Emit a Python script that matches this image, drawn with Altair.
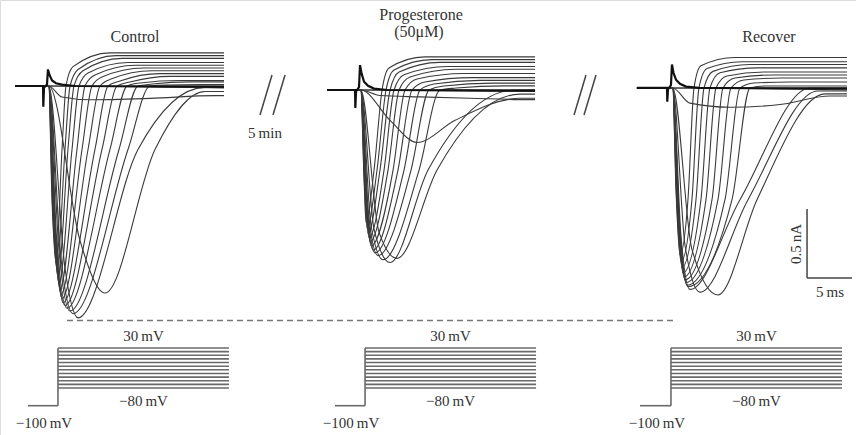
import altair as alt
import pandas as pd

# ---------------- current traces (time in ms after the step, current in nA) ----------------
# one entry per trace, from the largest depolarisation (highest outward plateau) down
ctrl_fall_t = [0.67, 0.72, 0.78, 0.83, 0.89, 0.94, 1.00, 1.06, 1.11, 1.22, 1.44, 1.67, 2.11, 3.78, 1.78]
ctrl_fall_i = [-0.83, -0.86, -0.90, -0.94, -0.97, -1.01, -1.04, -1.08, -1.12, -1.15, -1.19, -1.25, -1.32, -1.12, -0.08]
ctrl_peak_t = [1.11, 1.22, 1.33, 1.44, 1.56, 1.67, 1.78, 1.89, 2.11, 2.33, 2.67, 3.00, 3.56, 6.56, 4.89]
ctrl_peak_i = [-1.28, -1.33, -1.38, -1.43, -1.47, -1.51, -1.54, -1.57, -1.59, -1.61, -1.63, -1.65, -1.68, -1.50, -0.10]
ctrl_mid_t = [1.78, 2.11, 2.44, 2.89, 3.44, 4.00, 4.67, 5.44, 6.22, 7.11, 8.11, 9.11, 10.22, 12.11, 11.56]
ctrl_mid_i = [-0.46, -0.46, -0.46, -0.46, -0.46, -0.46, -0.46, -0.46, -0.46, -0.46, -0.46, -0.46, -0.46, -0.46, -0.09]
ctrl_cross_t = [2.22, 2.67, 3.11, 3.67, 4.33, 5.11, 6.00, 6.89, 7.89, 9.00, 10.22, 11.56, None, None, None]
ctrl_bend_t = [3.00, 3.56, 4.11, 4.67, 5.44, 6.22, 7.22, 8.22, 9.33, 10.44, 11.78, 13.22, None, None, None]
ctrl_bend_i = [0.14, 0.12, 0.11, 0.094, 0.08, 0.065, 0.05, 0.036, 0.029, 0.022, 0.014, 0.007, None, None, None]
ctrl_knee_t = [7.11, 7.78, 8.44, 9.11, 10.00, 10.89, 11.78, 12.67, 13.78, 14.89, 16.00, 17.11, 17.67, 17.67, 18.78]
ctrl_plat_i = [0.24, 0.22, 0.20, 0.17, 0.15, 0.13, 0.11, 0.09, 0.07, 0.04, 0.03, 0.01, -0.01, -0.04, -0.07]
ctrl_flat_i = [-0.01, -0.015]

prog_fall_t = [0.67, 0.72, 0.78, 0.83, 0.89, 0.94, 1.00, 1.11, 1.22, 1.44, 1.78, 2.33, 3.56, 2.44]
prog_fall_i = [-0.65, -0.69, -0.72, -0.76, -0.80, -0.83, -0.87, -0.91, -0.94, -0.98, -1.01, -1.03, -0.22, -0.04]
prog_peak_t = [0.89, 1.00, 1.11, 1.22, 1.33, 1.44, 1.67, 1.89, 2.22, 2.78, 3.56, 4.33, 6.56, 6.89]
prog_peak_i = [-0.96, -1.00, -1.04, -1.07, -1.10, -1.13, -1.16, -1.18, -1.20, -1.23, -1.25, -1.22, -0.38, -0.05]
prog_mid_t = [1.78, 2.11, 2.44, 2.89, 3.33, 3.89, 4.44, 5.11, 5.89, 6.78, 7.78, 8.78, 10.78, 12.44]
prog_mid_i = [-0.58, -0.58, -0.58, -0.58, -0.58, -0.58, -0.58, -0.58, -0.58, -0.58, -0.58, -0.58, -0.22, -0.06]
prog_cross_t = [2.67, 3.11, 3.56, 4.00, 4.56, 5.22, 6.00, 6.89, 7.89, 9.11, None, None, None, None]
prog_bend_t = [3.44, 4.00, 4.56, 5.11, 5.78, 6.56, 7.44, 8.44, 9.56, 10.89, None, None, None, None]
prog_bend_i = [0.16, 0.145, 0.13, 0.11, 0.094, 0.08, 0.058, 0.043, 0.029, 0.014, None, None, None, None]
prog_knee_t = [7.44, 8.22, 9.11, 10.00, 10.89, 11.78, 12.67, 13.56, 14.89, 16.33, 17.44, 18.00, 18.00, 19.11]
prog_plat_i = [0.24, 0.22, 0.20, 0.17, 0.15, 0.12, 0.09, 0.07, 0.05, 0.03, 0.00, -0.03, -0.06, -0.07]
prog_flat_i = [0.0, -0.01]

rec_fall_t = [0.67, 0.72, 0.78, 0.83, 0.89, 0.94, 1.00, 1.06, 1.11, 1.22, 1.67, 2.44, 2.22]
rec_fall_i = [-0.74, -0.78, -0.81, -0.85, -0.88, -0.92, -0.96, -0.99, -1.03, -1.07, -1.14, -1.17, -0.11]
rec_peak_t = [1.11, 1.22, 1.33, 1.44, 1.56, 1.67, 1.78, 1.89, 2.00, 2.22, 3.33, 5.33, 6.67]
rec_peak_i = [-1.21, -1.26, -1.30, -1.34, -1.37, -1.39, -1.41, -1.43, -1.44, -1.46, -1.48, -1.50, -0.14]
rec_mid_t = [2.00, 2.44, 2.89, 3.44, 4.00, 4.67, 5.33, 6.11, 6.89, 7.78, 8.67, 9.67, 12.22]
rec_mid_i = [-0.81, -0.81, -0.81, -0.81, -0.81, -0.81, -0.81, -0.81, -0.81, -0.81, -0.81, -0.81, -0.12]
rec_cross_t = [2.67, 3.22, 3.78, 4.44, 5.11, 5.89, 6.78, 7.78, 8.89, None, None, None, None]
rec_bend_t = [3.44, 4.11, 4.78, 5.56, 6.33, 7.22, 8.22, 9.33, 10.56, None, None, None, None]
rec_bend_i = [0.16, 0.14, 0.12, 0.11, 0.087, 0.072, 0.058, 0.036, 0.014, None, None, None, None]
rec_knee_t = [7.22, 8.00, 8.89, 9.78, 10.67, 11.56, 12.44, 13.33, 14.44, 15.56, 16.44, 17.22, 17.78]
rec_plat_i = [0.22, 0.19, 0.17, 0.145, 0.116, 0.094, 0.072, 0.043, 0.014, 0.00, -0.022, -0.043, -0.058]
rec_flat_i = [0.0, -0.015]

# capacitive transient at the step (shared time points, per-panel amplitudes)
art_t = [-0.33, -0.30, -0.22, 0.11, 0.22, 0.39, 0.67, 1.11, 1.78, 3.22]
ctrl_art_i = [0.0, -0.15, -0.01, 0.01, 0.12, 0.08, 0.04, 0.02, 0.01, 0.0]
prog_art_i = [0.0, -0.13, -0.01, 0.02, 0.18, 0.12, 0.06, 0.03, 0.01, 0.0]
rec_art_i = [0.0, -0.10, -0.01, 0.02, 0.17, 0.11, 0.06, 0.03, 0.01, 0.0]

# recording window of each panel (ms relative to step)
trace_start = [-3.44, -3.44, -3.67]
trace_end = [19.78, 19.67, 19.67]

# ---------------- voltage protocol ----------------
holding_mv = -100
step_levels_mv = [-80, -70, -60, -50, -40, -30, -20, -10, 0, 10, 20, 30]
proto_hold_start = [-2.00, -2.56, -3.33]
proto_step = [1.33, 0.78, 0.11]
proto_end = [20.33, 19.78, 19.11]

# peak of control current marked by the dashed line (nA)
control_peak_level = -1.70

panel_names = ["Control", "Progesterone", "Recover"]

# ---------------- layout (placement of panels on the shared canvas) ----------------
panel_dt = [0.0, 34.67, 69.33]     # ms offset of each panel
panel_di = [0.0, -0.029, -0.014]   # baseline offset of each panel (nA)
X_DOM = [-5.111, 90.0]
Y_DOM = [-2.529, 0.6232]
V_DOM = [-100, -80, 30]
V_RANGE = [405.7, 388, 348]
W, H = 856, 435
FONT = "Liberation Serif"
INK = "#333333"

panels = [
    dict(fall_t=ctrl_fall_t, fall_i=ctrl_fall_i, peak_t=ctrl_peak_t, peak_i=ctrl_peak_i,
         mid_t=ctrl_mid_t, mid_i=ctrl_mid_i, cross_t=ctrl_cross_t, bend_t=ctrl_bend_t,
         bend_i=ctrl_bend_i, knee_t=ctrl_knee_t, plat_i=ctrl_plat_i, flat=ctrl_flat_i, art=ctrl_art_i),
    dict(fall_t=prog_fall_t, fall_i=prog_fall_i, peak_t=prog_peak_t, peak_i=prog_peak_i,
         mid_t=prog_mid_t, mid_i=prog_mid_i, cross_t=prog_cross_t, bend_t=prog_bend_t,
         bend_i=prog_bend_i, knee_t=prog_knee_t, plat_i=prog_plat_i, flat=prog_flat_i, art=prog_art_i),
    dict(fall_t=rec_fall_t, fall_i=rec_fall_i, peak_t=rec_peak_t, peak_i=rec_peak_i,
         mid_t=rec_mid_t, mid_i=rec_mid_i, cross_t=rec_cross_t, bend_t=rec_bend_t,
         bend_i=rec_bend_i, knee_t=rec_knee_t, plat_i=rec_plat_i, flat=rec_flat_i, art=rec_art_i),
]

trace_rows, art_rows = [], []
for p, P in enumerate(panels):
    def add(name, pts):
        for j, (t, i) in enumerate(pts):
            trace_rows.append(dict(trace=f"{p}-{name}", k=j, t=t + panel_dt[p], i=i + panel_di[p]))
    for k in range(len(P["peak_t"])):
        pts = [(trace_start[p], 0.0), (0.3, 0.0),
               (P["fall_t"][k], P["fall_i"][k]),
               (P["peak_t"][k], P["peak_i"][k]),
               (P["mid_t"][k], P["mid_i"][k])]
        if P["cross_t"][k] is not None:
            pts.append((P["cross_t"][k], 0.0))
            pts.append((P["bend_t"][k], P["bend_i"][k]))
        pts += [(P["knee_t"][k], P["plat_i"][k]), (trace_end[p], P["plat_i"][k])]
        add(f"a{k}", pts)
    for k, f in enumerate(P["flat"]):
        add(f"f{k}", [(trace_start[p], 0.0), (0.3, 0.0), (trace_end[p], f)])
    apts = [(trace_start[p], 0.0)] + list(zip(art_t, P["art"])) + [(trace_end[p], -0.005)]
    for j, (t, i) in enumerate(apts):
        art_rows.append(dict(panel=p, k=j, t=t + panel_dt[p], i=i + panel_di[p]))

df_tr = pd.DataFrame(trace_rows)
df_art = pd.DataFrame(art_rows)

xs = alt.Scale(domain=X_DOM, nice=False, zero=False)
ys = alt.Scale(domain=Y_DOM, nice=False, zero=False)
vs = alt.Scale(domain=V_DOM, range=V_RANGE, nice=False, zero=False)

traces = alt.Chart(df_tr).mark_line(interpolate="monotone", color="#3a3a3a", strokeWidth=1.1).encode(
    x=alt.X("t:Q", scale=xs, axis=None),
    y=alt.Y("i:Q", scale=ys, axis=None),
    detail="trace:N",
)
artifact = alt.Chart(df_art).mark_line(color="#111111", strokeWidth=2.2).encode(
    x=alt.X("t:Q", scale=xs, axis=None),
    y=alt.Y("i:Q", scale=ys, axis=None),
    detail="panel:N",
    order="k:Q",
)

# dashed reference line at control peak
df_dash = pd.DataFrame([dict(t0=2.33, t1=69.89, i=control_peak_level)])
dash = alt.Chart(df_dash).mark_rule(color="#777777", strokeWidth=1.5, strokeDash=[6, 4]).encode(
    x=alt.X("t0:Q", scale=xs, axis=None), x2="t1:Q",
    y=alt.Y("i:Q", scale=ys, axis=None),
)

# scale bar (0.5 nA, 5 ms) and break marks
bar_t, bar_i = 84.56, -1.391
seg_rows = [
    dict(t0=bar_t, t1=bar_t, i0=bar_i + 0.5, i1=bar_i),
    dict(t0=bar_t, t1=bar_t + 5.0, i0=bar_i, i1=bar_i),
    dict(t0=23.78, t1=25.11, i0=-0.21, i1=0.08),
    dict(t0=25.22, t1=26.56, i0=-0.21, i1=0.08),
    dict(t0=58.67, t1=60.00, i0=-0.21, i1=0.08),
    dict(t0=59.78, t1=61.11, i0=-0.21, i1=0.08),
]
df_seg = pd.DataFrame(seg_rows)
segs = alt.Chart(df_seg).mark_rule(color="#444444", strokeWidth=1.5).encode(
    x=alt.X("t0:Q", scale=xs, axis=None), x2="t1:Q",
    y=alt.Y("i0:Q", scale=ys, axis=None), y2="i1:Q",
)

# text annotations
txt_rows = [
    dict(t=9.89, i=0.319, label="Control", size=16),
    dict(t=41.67, i=0.478, label="Progesterone", size=16),
    dict(t=41.44, i=0.355, label="(50\u03bcM)", size=16),
    dict(t=80.33, i=0.319, label="Recover", size=16),
    dict(t=24.33, i=-0.377, label="5\u2009min", size=15),
    dict(t=87.11, i=-1.529, label="5\u2009ms", size=15),
]
df_txt = pd.DataFrame(txt_rows)
texts = alt.Chart(df_txt).mark_text(font=FONT, color=INK, align="center", baseline="alphabetic").encode(
    x=alt.X("t:Q", scale=xs, axis=None),
    y=alt.Y("i:Q", scale=ys, axis=None),
    text="label:N",
    size=alt.Size("size:Q", scale=None, legend=None),
)
df_rot = pd.DataFrame([dict(t=83.33, i=-1.145, label="0.5\u2009nA")])
rot = alt.Chart(df_rot).mark_text(font=FONT, color=INK, fontSize=15, angle=270,
                                   align="center", baseline="middle").encode(
    x=alt.X("t:Q", scale=xs, axis=None),
    y=alt.Y("i:Q", scale=ys, axis=None),
    text="label:N",
)

# voltage protocol
step_rows, hold_rows, vert_rows, lab_rows = [], [], [], []
for p in range(3):
    s = panel_dt[p] + proto_step[p]
    for v in step_levels_mv:
        step_rows.append(dict(t0=s, t1=panel_dt[p] + proto_end[p], v=v))
    hold_rows.append(dict(t0=panel_dt[p] + proto_hold_start[p], t1=s, v=holding_mv))
    vert_rows.append(dict(t=s, v0=holding_mv, v1=max(step_levels_mv)))
    lab_rows.append(dict(t=s + 9.5, hi=max(step_levels_mv), lo=min(step_levels_mv), hold=holding_mv,
                         th=s - 1.56))
df_steps = pd.DataFrame(step_rows + hold_rows)
df_vert = pd.DataFrame(vert_rows)
df_lab = pd.DataFrame(lab_rows)

vsteps = alt.Chart(df_steps).mark_rule(color="#6a6a6a", strokeWidth=1.6).encode(
    x=alt.X("t0:Q", scale=xs, axis=None), x2="t1:Q",
    y=alt.Y("v:Q", scale=vs, axis=None),
)
vvert = alt.Chart(df_vert).mark_rule(color="#6a6a6a", strokeWidth=1.6).encode(
    x=alt.X("t:Q", scale=xs, axis=None),
    y=alt.Y("v0:Q", scale=vs, axis=None), y2="v1:Q",
)
lab_hi = alt.Chart(df_lab).mark_text(font=FONT, color=INK, fontSize=15, align="center",
                                     baseline="alphabetic", dy=-7).encode(
    x=alt.X("t:Q", scale=xs, axis=None),
    y=alt.Y("hi:Q", scale=vs, axis=None),
    text=alt.value("30\u2009mV"),
)
lab_lo = alt.Chart(df_lab).mark_text(font=FONT, color=INK, fontSize=15, align="center",
                                     baseline="alphabetic", dy=18).encode(
    x=alt.X("t:Q", scale=xs, axis=None),
    y=alt.Y("lo:Q", scale=vs, axis=None),
    text=alt.value("\u221280\u2009mV"),
)
lab_hold = alt.Chart(df_lab).mark_text(font=FONT, color=INK, fontSize=15, align="center",
                                       baseline="alphabetic", dy=22).encode(
    x=alt.X("th:Q", scale=xs, axis=None),
    y=alt.Y("hold:Q", scale=vs, axis=None),
    text=alt.value("\u2212100\u2009mV"),
)

chart = alt.layer(
    dash, traces, artifact, segs, texts, rot, vsteps, vvert, lab_hi, lab_lo, lab_hold
).resolve_scale(y="independent").properties(
    width=W, height=H, padding=0,
    autosize=alt.AutoSizeParams(type="none"),
).configure_view(stroke=None).configure(background="white")

chart.save("out.html", embed_options={"renderer": "svg", "actions": False})
